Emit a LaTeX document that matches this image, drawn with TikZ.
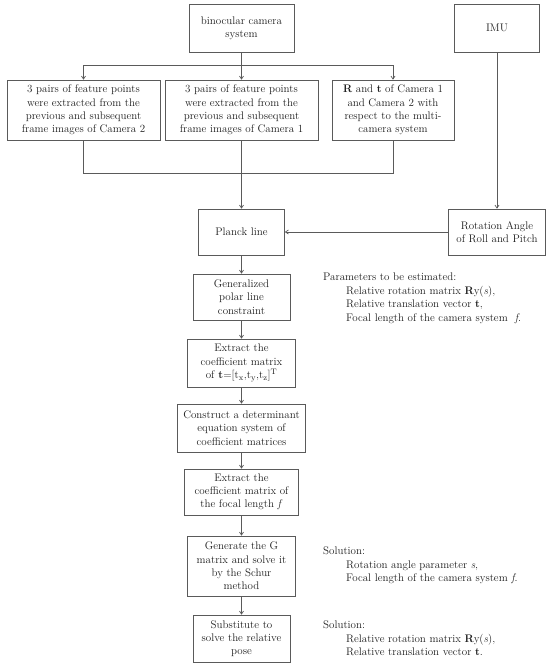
\documentclass[tikz,border=0pt]{standalone}
\usetikzlibrary{arrows.meta}
\definecolor{linegray}{HTML}{5A5A5A}
\definecolor{txt}{HTML}{1E1E1E}
\begin{document}
\begin{tikzpicture}[x=1pt,y=-1pt,
  box/.style={draw=linegray, line width=0.7pt, align=center, inner sep=1pt, text=txt,
    font=\fontsize{11}{13.3}\selectfont},
  arr/.style={-{Straight Barb[length=3pt,width=4pt]}, draw=linegray, line width=0.7pt},
  ln/.style={draw=linegray, line width=0.7pt},
  note/.style={anchor=north west, align=left, inner sep=0pt, text=txt,
    font=\fontsize{11}{13.5}\selectfont}]
\useasboundingbox (0,0) rectangle (550,667);
% top
\node[box, minimum width=105pt, minimum height=48pt] (bino) at (241.5,28) {binocular camera\\system};
\node[box, minimum width=85pt, minimum height=48pt] (imu) at (497,28) {IMU};
% row
\node[box, minimum width=153pt, minimum height=60pt] (A) at (83.5,110) {3 pairs of feature points\\were extracted from the\\previous and subsequent\\frame images of Camera 2};
\node[box, minimum width=153pt, minimum height=60pt] (B) at (241.5,110) {3 pairs of feature points\\were extracted from the\\previous and subsequent\\frame images of Camera 1};
\node[box, minimum width=122pt, minimum height=60pt] (C) at (393,110) {\textbf{R} and \textbf{t} of Camera 1\\and Camera 2 with\\respect to the multi-\\camera system};
% middle
\node[box, minimum width=86pt, minimum height=46pt] (planck) at (241.5,232) {Planck line};
\node[box, minimum width=97pt, minimum height=46pt] (rot) at (497,232) {Rotation Angle\\of Roll and Pitch};
\node[box, minimum width=97pt, minimum height=46pt] (gen) at (241.5,297) {Generalized\\polar line\\constraint};
\node[box, minimum width=108pt, minimum height=48pt] (extt) at (241.5,363) {Extract the\\coefficient matrix\\of \textbf{t}=[t$_{\mathrm{x}}$,t$_{\mathrm{y}}$,t$_{\mathrm{z}}$]$^{\mathrm{T}}$};
\node[box, minimum width=128pt, minimum height=48pt] (cons) at (241.5,428) {Construct a determinant\\equation system of\\coefficient matrices};
\node[box, minimum width=114pt, minimum height=46pt] (extf) at (241.5,492) {Extract the\\coefficient matrix of\\the focal length \textit{f}};
\node[box, minimum width=108pt, minimum height=60pt] (G) at (241.5,566) {Generate the G\\matrix and solve it\\by the Schur\\method};
\node[box, minimum width=97pt, minimum height=47pt] (sub) at (241.5,638.5) {Substitute to\\solve the relative\\pose};
% notes
\node[note] (p1) at (323,273) {Parameters to be estimated:\\
\hspace*{23pt}Relative rotation matrix \textbf{R}y(\textit{s}),\\
\hspace*{23pt}Relative translation vector \textbf{t},\\
\hspace*{23pt}Focal length of the camera system \ \textit{f}.};
\node[note] (s1) at (323,547) {Solution:\\
\hspace*{23pt}Rotation angle parameter \textit{s},\\
\hspace*{23pt}Focal length of the camera system \textit{f}.};
\node[note] (s2) at (323,621) {Solution:\\
\hspace*{23pt}Relative rotation matrix \textbf{R}y(\textit{s}),\\
\hspace*{23pt}Relative translation vector \textbf{t}.};
% connectors top
\coordinate (dl) at (0,65);
\coordinate (cl) at (0,173);
\draw[ln] (bino.south) -- (bino.south |- dl);
\draw[arr] (bino.south |- dl) -- (B.north);
\draw[arr] (bino.south |- dl) -| (A.north);
\draw[arr] (bino.south |- dl) -| (C.north);
\draw[ln] (A.south) |- (C.south |- cl) -- (C.south);
\draw[ln] (B.south) -- (B.south |- cl);
\draw[arr] (B.south |- cl) -- (planck.north);
\draw[arr] (imu.south) -- (rot.north);
\draw[arr] (rot.west) -- (planck.east);
% chain
\draw[arr] (planck.south) -- (gen.north);
\draw[arr] (gen.south) -- (extt.north);
\draw[arr] (extt.south) -- (cons.north);
\draw[arr] (cons.south) -- (extf.north);
\draw[arr] (extf.south) -- (G.north);
\draw[arr] (G.south) -- (sub.north);
\end{tikzpicture}
\end{document}
